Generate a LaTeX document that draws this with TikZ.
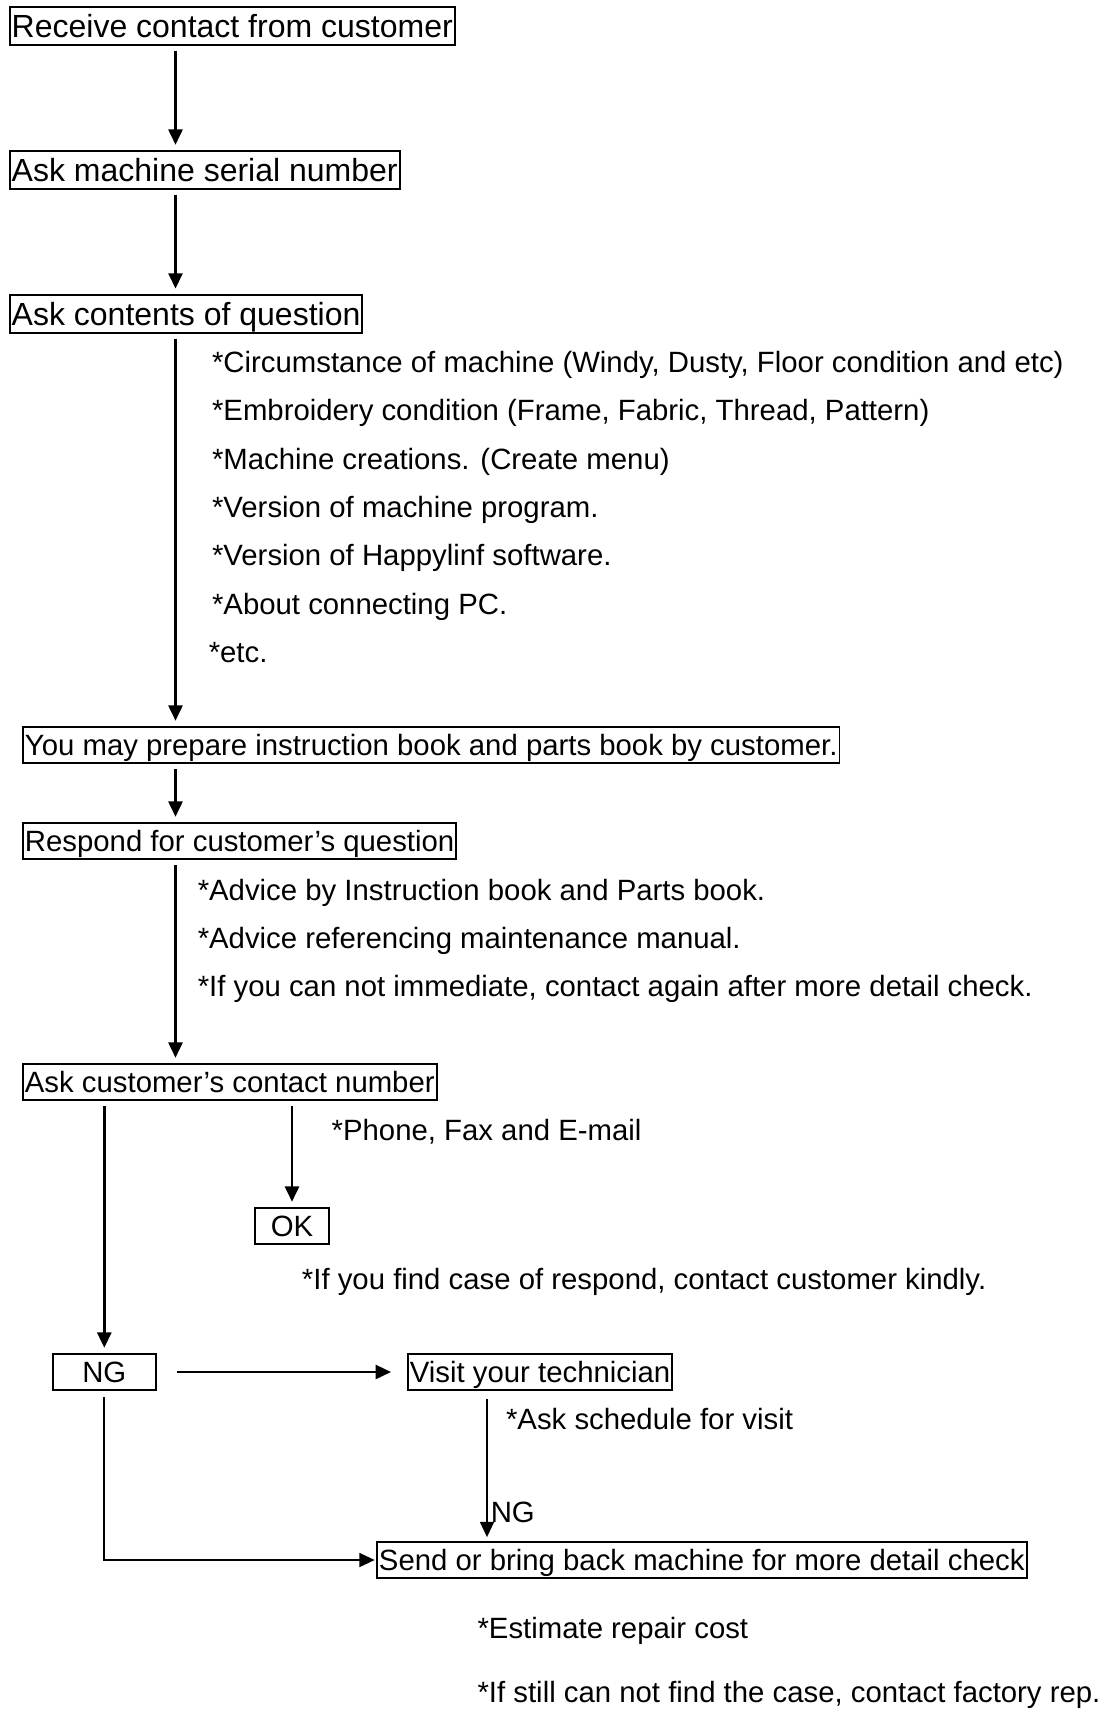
\documentclass[tikz,border=0pt]{standalone}
\usepackage{fontspec}
\setmainfont{Liberation Sans}
\usetikzlibrary{arrows.meta}
\newcommand{\bigf}{\fontsize{24pt}{28pt}\selectfont}
\newcommand{\smf}{\fontsize{22pt}{26pt}\selectfont}
\begin{document}
\begin{tikzpicture}[x=0.75pt,y=-0.75pt,
  box/.style={draw, line width=1.4pt, inner xsep=1.5pt, inner ysep=5.6pt, text depth=0pt},
  bigbox/.style={box, font=\bigf, text height=17.2pt, anchor=west},
  smbox/.style={box, font=\smf, text height=15.75pt, anchor=west},
  cbox/.style={box, font=\smf, text height=15.75pt, inner xsep=0pt},
  note/.style={anchor=west, inner sep=0pt, font=\smf, text height=15.75pt, text depth=0pt},
  arr/.style={line width=1.9pt, -{Triangle[length=11.5pt,width=10.5pt]}, shorten <=4pt, shorten >=4pt},
  tarr/.style={arr, line width=1.4pt}]
\fill[white] (0,0) rectangle (1106,1720);
\useasboundingbox (0,0) rectangle (1106,1720);
\coordinate (sp) at (175.5,0);
\coordinate (vx) at (487,0);
% boxes
\node[bigbox] (b1) at (8.8,26.3) {Receive contact from customer};
\node[bigbox] (b2) at (8.8,170) {Ask machine serial number};
\node[bigbox] (b3) at (8.8,313.8) {Ask contents of question};
\node[smbox] (b4) at (22,745) {You may prepare instruction book and parts book by customer.};
\node[smbox] (b5) at (22,841) {Respond for customer’s question};
\node[smbox] (b6) at (22,1082) {Ask customer’s contact number};
\node[cbox, minimum width=56pt] (ok) at (292,1226) {OK};
\node[cbox, minimum width=77pt] (ng) at (104.3,1372) {NG};
\node[smbox] (visit) at (407,1372) {Visit your technician};
\node[smbox] (send) at (376,1560) {Send or bring back machine for more detail check};
% notes
\node[note] (n1) at (211.8,362) {*Circumstance of machine (Windy, Dusty, Floor condition and etc)};
\node[note] (n2) at (211.8,410.4) {*Embroidery condition (Frame, Fabric, Thread, Pattern)};
\node[note] (n3) at (211.8,458.6) {*Machine creations. (Create menu)};
\node[note] (n4) at (211.8,507) {*Version of machine program.};
\node[note] (n5) at (211.8,555.2) {*Version of Happylinf software.};
\node[note] (n6) at (211.8,603.5) {*About connecting PC.};
\node[note] (n7) at (208.5,651.7) {*etc.};
\node[note] (m1) at (197.5,889.8) {*Advice by Instruction book and Parts book.};
\node[note] (m2) at (197.5,938) {*Advice referencing maintenance manual.};
\node[note] (m3) at (197.5,986.4) {*If you can not immediate, contact again after more detail check.};
\node[note] (p1) at (331.4,1130) {*Phone, Fax and E-mail};
\node[note] (p2) at (301.7,1279.3) {*If you find case of respond, contact customer kindly.};
\node[note] (s1) at (505.8,1418.7) {*Ask schedule for visit};
\node[note] (nglab) at (490.5,1512) {NG};
\node[note] (e1) at (477.3,1628) {*Estimate repair cost};
\node[note] (e2) at (477.3,1692) {*If still can not find the case, contact factory rep.};
% connectors
\draw[arr] (b1.south -| sp) -- (b2.north -| sp);
\draw[arr] (b2.south -| sp) -- (b3.north -| sp);
\draw[arr] (b3.south -| sp) -- (b4.north -| sp);
\draw[arr] (b4.south -| sp) -- (b5.north -| sp);
\draw[arr] (b5.south -| sp) -- (b6.north -| sp);
\draw[arr] (b6.south -| ng.north) -- (ng.north);
\draw[arr] (b6.south -| ok.north) -- (ok.north);
\draw[arr, shorten <=15pt, shorten >=12pt] (ng.east) -- (visit.west);
\draw[tarr, shorten <=6pt, shorten >=3pt] (visit.south -| vx) -- (send.north -| vx);
\draw[tarr, shorten <=4.5pt, shorten >=1pt] (ng.south) |- (send.west);
\end{tikzpicture}
\end{document}
